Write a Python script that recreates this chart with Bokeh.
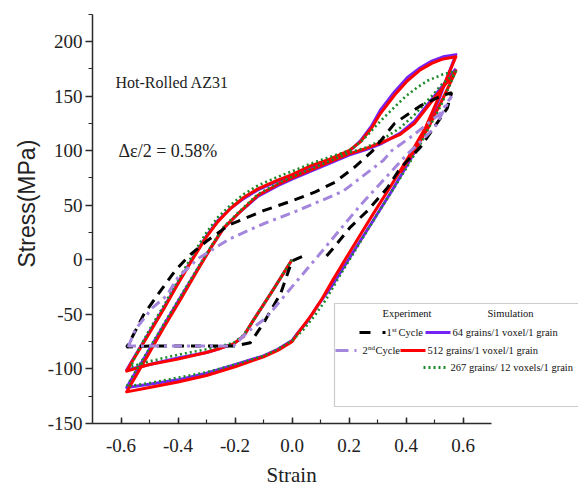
import math
from bokeh.plotting import figure
from bokeh.models import Range1d, SingleIntervalTicker, PrintfTickFormatter, BoxAnnotation, Title
from bokeh.core.properties import value
from bokeh.embed import file_html
from bokeh.resources import INLINE

# ---------------- data ----------------
# Experiment, 1st cycle (black dashed)
exp1_strain = [0.035, 0.0, -0.04, -0.10, -0.146, -0.20, -0.30, -0.40, -0.50, -0.58,
               -0.567, -0.52, -0.46, -0.41, -0.36, -0.30, -0.22, -0.10, 0.00, 0.08,
               0.15, 0.22, 0.28, 0.36, 0.45, 0.53, 0.56, 0.545, 0.45, 0.38,
               0.335, 0.265, 0.205, 0.146, 0.12]
exp1_stress = [3, -1, -31, -58, -76, -79, -79, -79, -79, -80,
               -74, -50, -28, -10, 4, 17, 32, 45, 54, 62,
               71, 85, 99, 125, 141, 151, 153, 139, 103, 84,
               66, 45, 30, 11, 3]

# Experiment, 2nd cycle (lavender dash-dot)
exp2_strain = [-0.575, -0.55, -0.49, -0.44, -0.40, -0.33, -0.22, -0.10, 0.00, 0.065,
               0.18, 0.32, 0.35, 0.43, 0.52, 0.56, 0.50, 0.43, 0.405, 0.24,
               0.09, -0.02, -0.09, -0.156, -0.205, -0.30, -0.45, -0.57]
exp2_stress = [-80, -64, -44, -33, -16, 1, 19, 33, 43, 50,
               63, 91, 100, 115, 134, 150, 121, 103, 97, 50,
               3, -31, -53, -66, -79, -79, -79, -79]

# Simulation, 64 grains/1 voxel/1 grain (violet solid)
sim64_strain = [0.0, -0.07, -0.137, -0.17, -0.205, -0.25, -0.30, -0.40, -0.50, -0.58,
                -0.56, -0.50, -0.45, -0.40, -0.35, -0.30, -0.26, -0.216, -0.17, -0.12,
                -0.05, 0.0, 0.065, 0.13, 0.20, 0.24, 0.28, 0.31, 0.36, 0.405,
                0.45, 0.49, 0.53, 0.575,
                0.52, 0.47, 0.42, 0.35, 0.28, 0.20, 0.14, 0.09, 0.05, 0.02,
                0.0, -0.05, -0.10, -0.20, -0.30, -0.40, -0.50, -0.58,
                -0.56, -0.50, -0.45, -0.39, -0.33, -0.28, -0.24, -0.19, -0.12, -0.05,
                0.0, 0.10, 0.20, 0.26, 0.31, 0.38, 0.43, 0.49, 0.53, 0.575]
sim64_stress = [0, -29, -56, -70, -77, -81, -85, -90, -96, -101,
                -92, -66, -44, -21, 1, 22, 36, 47, 56, 64,
                72, 77, 84, 91, 99, 109, 123, 137, 154, 167,
                176, 182, 186, 188,
                150, 119, 94, 63, 34, 1, -24, -42, -58, -67,
                -74, -82, -88, -96, -104, -110, -114, -117,
                -108, -82, -60, -34, -8, 13, 29, 42, 58, 68,
                74, 85, 96, 101, 106, 116, 127, 147, 160, 175]

# Simulation, 512 grains/1 voxel/1 grain (red solid)
sim512_strain = [0.0, -0.07, -0.137, -0.17, -0.205, -0.25, -0.30, -0.40, -0.50, -0.58,
                 -0.56, -0.50, -0.45, -0.40, -0.35, -0.30, -0.26, -0.216, -0.17, -0.12,
                 -0.05, 0.0, 0.065, 0.13, 0.20, 0.24, 0.28, 0.31, 0.36, 0.405,
                 0.45, 0.49, 0.53, 0.575,
                 0.52, 0.47, 0.42, 0.35, 0.28, 0.20, 0.14, 0.107, 0.07, 0.03,
                 0.0, -0.05, -0.10, -0.20, -0.30, -0.40, -0.50, -0.58,
                 -0.56, -0.50, -0.45, -0.39, -0.33, -0.28, -0.24, -0.19, -0.12, -0.05,
                 0.0, 0.10, 0.20, 0.26, 0.31, 0.38, 0.43, 0.49, 0.53, 0.575,
                 0.53, 0.48, 0.43, 0.38]
sim512_stress = [0, -29, -56, -70, -77, -81, -85, -91, -96, -102,
                 -93, -67, -45, -22, 0, 21, 35, 47, 57, 65,
                 73, 78, 86, 92, 100, 108, 121, 134, 151, 164,
                 174, 180, 184, 186,
                 152, 122, 99, 69, 40, 6, -20, -35, -50, -64,
                 -75, -83, -89, -98, -106, -112, -117, -121,
                 -112, -85, -62, -36, -9, 13, 29, 42, 59, 69,
                 75, 86, 97, 102, 107, 115, 125, 145, 158, 173,
                 148, 122, 100, 80]

# Simulation, 267 grains/ 12 voxels/1 grain (green dotted)
sim267_strain = [0.0, -0.07, -0.137, -0.17, -0.205, -0.25, -0.30, -0.40, -0.50, -0.565,
                 -0.55, -0.50, -0.45, -0.40, -0.35, -0.30, -0.26, -0.216, -0.17, -0.12,
                 -0.05, 0.0, 0.065, 0.13, 0.20, 0.25, 0.31, 0.36, 0.40, 0.44,
                 0.475, 0.53, 0.575,
                 0.52, 0.47, 0.445, 0.38, 0.30, 0.22, 0.16, 0.118, 0.08, 0.04,
                 0.0, -0.05, -0.10, -0.20, -0.30, -0.40, -0.50, -0.58,
                 -0.56, -0.50, -0.45, -0.39, -0.33, -0.28, -0.24, -0.19, -0.12, -0.05,
                 0.0, 0.10, 0.20, 0.26, 0.31, 0.38, 0.43, 0.49, 0.53, 0.575]
sim267_stress = [0, -29, -56, -69, -76, -79, -82, -87, -93, -98,
                 -88, -64, -42, -19, 4, 25, 39, 50, 60, 68,
                 76, 81, 88, 94, 100, 110, 127, 140, 150, 158,
                 164, 170, 173,
                 140, 116, 103, 75, 42, 8, -18, -37, -51, -64,
                 -74, -82, -88, -96, -103, -108, -113, -116,
                 -107, -81, -59, -33, -7, 14, 30, 43, 60, 70,
                 76, 87, 98, 103, 109, 121, 133, 150, 162, 171]

x_ticks_interval = 0.2
y_ticks_interval = 50
header_labels = ["Experiment", "Simulation"]
exp_labels = ["1", "2"]
exp_sups = ["st", "nd"]
sim_labels = ["64 grains/1 voxel/1 grain", "512 grains/1 voxel/1 grain",
              "267 grains/ 12 voxels/1 grain"]

# ---------------- layout ----------------
W, H = 578, 497
FL, FR, FT, FB = 92, 578, 13, 423
PXX, PXY = 285.0, 1.0914
X0 = -0.7
X1 = X0 + (FR - FL) / PXX
Y0 = -150.0
Y1 = Y0 + (FB - FT) / PXY


def sx(px):
    return X0 + (px - FL) / PXX


def sy(py):
    return Y0 + (FB - py) / PXY


SERIF = "Liberation Serif"
AX = "#2a2a2a"

p = figure(width=W, height=H, x_range=Range1d(X0, X1), y_range=Range1d(Y0, Y1),
           output_backend="svg", toolbar_location=None,
           title="Strain", title_location="below",
           min_border_left=FL, min_border_right=0, min_border_top=FT,
           min_border_bottom=H - FB)
p.outline_line_color = None
p.grid.visible = False
p.background_fill_color = "white"
p.border_fill_color = "white"

# x-axis title drawn as a below-title so that it sits under the axis' own extent
p.title.text_font = SERIF
p.title.text_font_size = "21px"
p.title.text_font_style = "normal"
p.title.text_color = "#222"
p.title.align = "left"
p.title.offset = 174
p.title.standoff = 12

# y-axis title as a left-side title, placed along the axis' own extent
p.add_layout(Title(text="Stress(MPa)", text_font="Liberation Sans", text_font_size="23px",
                   text_font_style="normal", text_color="#222", align="left",
                   offset=156, standoff=10), "left")

xa = p.xaxis[0]
xa.ticker = SingleIntervalTicker(interval=x_ticks_interval, num_minor_ticks=2)
xa.bounds = (-0.7, 0.7)
xa.formatter = PrintfTickFormatter(format="%.1f")
xa.major_tick_in = 6
xa.major_tick_out = 0
xa.minor_tick_in = 4
xa.minor_tick_out = 0
xa.axis_line_width = 1.5
xa.major_tick_line_width = 1.5
xa.minor_tick_line_width = 1.2
xa.axis_line_color = AX
xa.major_tick_line_color = AX
xa.minor_tick_line_color = AX
xa.major_label_text_font = SERIF
xa.major_label_text_font_size = "19px"
xa.major_label_text_color = "#222"
xa.major_label_standoff = 15

ya = p.yaxis[0]
ya.ticker = SingleIntervalTicker(interval=y_ticks_interval, num_minor_ticks=2)
ya.bounds = (-150, 225)
ya.formatter = PrintfTickFormatter(format="%d")
ya.major_tick_in = 0
ya.major_tick_out = 7
ya.minor_tick_in = 0
ya.minor_tick_out = 4
ya.axis_line_width = 1.5
ya.major_tick_line_width = 1.5
ya.minor_tick_line_width = 1.2
ya.axis_line_color = AX
ya.major_tick_line_color = AX
ya.minor_tick_line_color = AX
ya.major_label_text_font = SERIF
ya.major_label_text_font_size = "19px"
ya.major_label_text_color = "#222"
ya.major_label_standoff = 3

# ---------------- curves ----------------
C_SIM64 = "#7424f5"
C_SIM512 = "#ff0000"
C_SIM267 = "#1c8a2a"
C_EXP1 = "#000000"
C_EXP2 = "#a487dc"

p.line(sim64_strain, sim64_stress, line_color=C_SIM64, line_width=3, line_join="round")
p.line(sim512_strain, sim512_stress, line_color=C_SIM512, line_width=3, line_join="round")
p.line(sim267_strain, sim267_stress, line_color=C_SIM267, line_width=2.6, line_dash="2 3")
p.line(exp1_strain, exp1_stress, line_color=C_EXP1, line_width=3, line_dash="10 7")
p.line(exp2_strain, exp2_stress, line_color=C_EXP2, line_width=3, line_dash="10 5 3 5")

# ---------------- annotations ----------------
p.text(x=[sx(115)], y=[sy(82)], text=["Hot-Rolled AZ31"], text_font=value(SERIF),
       text_font_size="16px", text_baseline="middle", text_align="left", text_color="#222")
p.text(x=[sx(118)], y=[sy(150)], text=["Δε/2 = 0.58%"], text_font=value(SERIF),
       text_font_size="18px", text_baseline="middle", text_align="left", text_color="#222")

# ---------------- legend ----------------
box = BoxAnnotation(left=sx(334), right=X1 + 0.2, top=sy(303), bottom=sy(406),
                    fill_color=None, line_color="#555555", line_width=1.2)
p.add_layout(box)

LF = "10.5px"
def txt(px, py, s, size=LF):
    p.text(x=[sx(px)], y=[sy(py)], text=[s], text_font=value(SERIF), text_font_size=size,
           text_baseline="middle", text_align="left", text_color="#111")

txt(382, 313, header_labels[0])
txt(487, 313, header_labels[1])

# row 1
p.line([sx(359), sx(385)], [sy(332), sy(332)], line_color=C_EXP1, line_width=3, line_dash="11 12")
txt(386, 332, exp_labels[0])
txt(391.5, 329, exp_sups[0], size="7px")
txt(398, 332, "Cycle")
p.line([sx(425), sx(450)], [sy(332), sy(332)], line_color=C_SIM64, line_width=3)
txt(452, 332, sim_labels[0])
# row 2
p.line([sx(335), sx(358)], [sy(350), sy(350)], line_color=C_EXP2, line_width=3, line_dash="13 6 2 6")
txt(362, 350, exp_labels[1])
txt(367.5, 347, exp_sups[1], size="7px")
txt(375, 350, "Cycle")
p.line([sx(400), sx(425)], [sy(350), sy(350)], line_color=C_SIM512, line_width=3)
txt(427, 350, sim_labels[1])
# row 3
p.line([sx(423), sx(448)], [sy(367), sy(367)], line_color=C_SIM267, line_width=3, line_dash="2 3")
txt(450, 367, sim_labels[2])

open("out.html", "w").write(file_html(p, INLINE))
